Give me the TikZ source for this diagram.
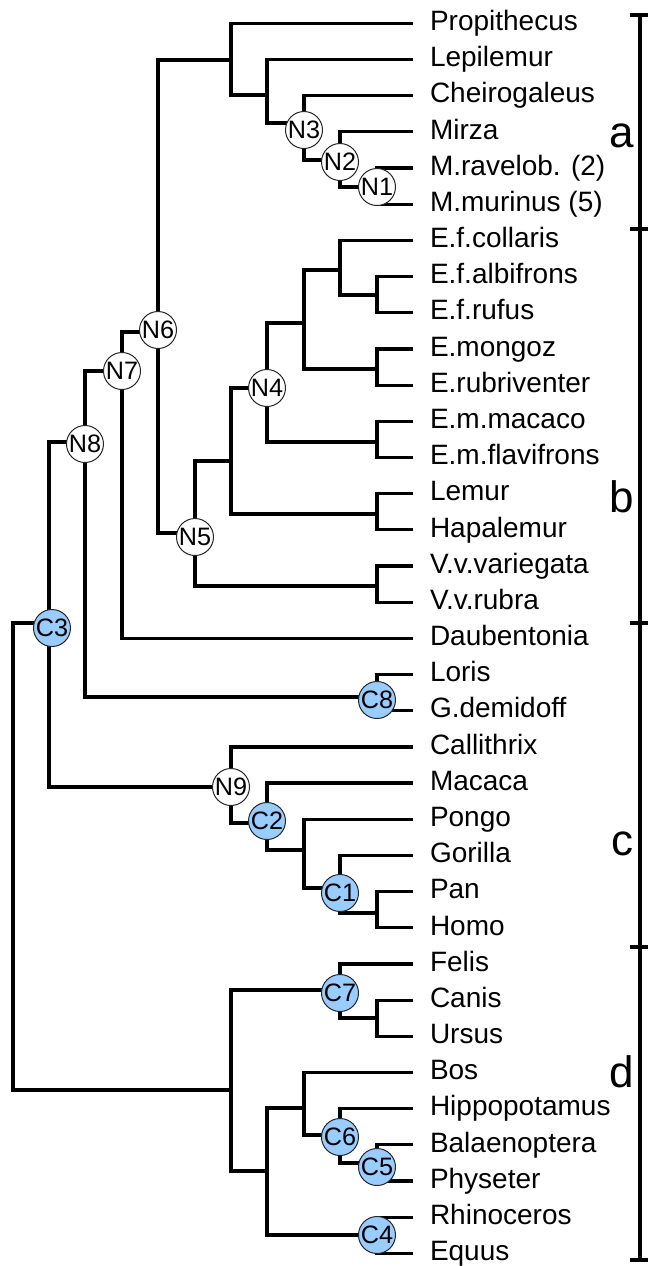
\documentclass[tikz,border=0pt]{standalone}
\usepackage{fontspec}
\setmainfont{Liberation Sans}
\usetikzlibrary{positioning,calc}
\definecolor{cblue}{RGB}{153,204,255}

\begin{document}
\begin{tikzpicture}[
  x=0.5pt, y=-0.5pt,
  font=\fontsize{14}{16}\selectfont,
  branch/.style={line width=1.6pt},
  bar/.style={line width=2pt},
  leaf/.style={anchor=west,inner xsep=8.5pt,inner ysep=0pt,outer sep=0pt,
               text height=0.72em,text depth=0pt},
  tag/.style={circle,draw=black!85,line width=0.5pt,fill=white,inner sep=0pt,
              minimum size=18.5pt,font=\fontsize{12.6}{12.6}\selectfont},
  ctag/.style={tag,fill=cblue},
  grp/.style={anchor=base east,inner sep=0pt,font=\fontsize{22}{22}\selectfont}
]
\useasboundingbox (0,0) rectangle (648,1266);

% ---- Taxa ----
\foreach \t [count=\i from 0] in {Propithecus,Lepilemur,Cheirogaleus,Mirza,
  M.ravelob. (2),M.murinus (5),E.f.collaris,E.f.albifrons,E.f.rufus,E.mongoz,
  E.rubriventer,E.m.macaco,E.m.flavifrons,Lemur,Hapalemur,V.v.variegata,
  V.v.rubra,Daubentonia,Loris,G.demidoff,Callithrix,Macaca,Pongo,Gorilla,Pan,
  Homo,Felis,Canis,Ursus,Bos,Hippopotamus,Balaenoptera,Physeter,Rhinoceros,Equus}
  \node[leaf] (l\i) at (413,{23.3+36.18*\i}) {\t};

% ---- Junctions ----
\coordinate (root) at (13,856);
\coordinate (c3)   at (49,623);
\coordinate (n8)   at (85,442);
\coordinate (n7)   at (122,371);
\coordinate (n6)   at (158,332);
\coordinate (j6)   at (231,60);
\coordinate (j7)   at (267,95);
\coordinate (n3)   at (304,123);
\coordinate (n2)   at (340,160);
\coordinate (n1)   at (377,187);
\coordinate (n5)   at (195,533);
\coordinate (lem)  at (231,461);
\coordinate (n4)   at (267,388);
\coordinate (eul)  at (304,323);
\coordinate (efc)  at (340,270);
\coordinate (ef)   at (377,295);
\coordinate (em)   at (377,369);
\coordinate (emm)  at (377,442);
\coordinate (lh)   at (377,514);
\coordinate (vv)   at (377,586);
\coordinate (c8)   at (377,697);
\coordinate (n9)   at (231,787);
\coordinate (c2)   at (267,823);
\coordinate (gp)   at (304,850);
\coordinate (c1)   at (340,888);
\coordinate (ph)   at (377,913);
\coordinate (lau)  at (231,1090);
\coordinate (c7)   at (340,990);
\coordinate (cu)   at (377,1018);
\coordinate (ung)  at (267,1171);
\coordinate (bc)   at (304,1108);
\coordinate (c6)   at (340,1135);
\coordinate (c5)   at (377,1163);
\coordinate (c4)   at (377,1235);

% ---- Branches ----
\foreach \a/\b in {root/c3,root/lau,c3/n8,c3/n9,n8/n7,n8/c8,n7/n6,n7/l17,
  n6/j6,n6/n5,j6/l0,j6/j7,j7/l1,j7/n3,n3/l2,n3/n2,n2/l3,n2/n1,n1/l4,n1/l5,
  n5/lem,n5/vv,lem/n4,lem/lh,n4/eul,n4/emm,eul/efc,eul/em,efc/l6,efc/ef,
  ef/l7,ef/l8,em/l9,em/l10,emm/l11,emm/l12,lh/l13,lh/l14,vv/l15,vv/l16,
  c8/l18,c8/l19,n9/l20,n9/c2,c2/l21,c2/gp,gp/l22,gp/c1,c1/l23,c1/ph,
  ph/l24,ph/l25,lau/c7,lau/ung,c7/l26,c7/cu,cu/l27,cu/l28,ung/bc,ung/c4,
  bc/l29,bc/c6,c6/l30,c6/c5,c5/l31,c5/l32,c4/l33,c4/l34} {
  \draw[branch] (\a) |- (\b);
}

% ---- Node labels ----
\node[tag] (N1) at (n1) {N1};
\node[tag] (N2) at ([yshift=-1pt]n2) {N2};
\node[tag] (N3) at ([yshift=-3.5pt]n3) {N3};
\node[tag] (N4) at (n4) {N4};
\node[tag] (N5) at ([yshift=-2pt]n5) {N5};
\node[tag] (N6) at ([yshift=1pt]n6) {N6};
\node[tag] (N7) at (n7) {N7};
\node[tag] (N8) at ([yshift=-1pt]n8) {N8};
\node[tag] (N9) at (n9) {N9};
\node[ctag] (C1) at ([yshift=-2.5pt]c1) {C1};
\node[ctag] (C2) at ([yshift=1pt]c2) {C2};
\node[ctag] (C3) at ([xshift=1.5pt,yshift=-2.5pt]c3) {C3};
\node[ctag] (C4) at (c4) {C4};
\node[ctag] (C5) at ([yshift=-2pt]c5) {C5};
\node[ctag] (C6) at ([yshift=-1pt]c6) {C6};
\node[ctag] (C7) at ([yshift=-1.5pt]c7) {C7};
\node[ctag] (C8) at ([yshift=-1.5pt]c8) {C8};

% ---- Groups ----
\draw[bar] (640,15) -- (640,1260);
\foreach \y in {15,229,623,947,1260}
  \draw[bar] (630,\y) -- (648,\y);
\node[grp] (ga) at (634,147) {a};
\node[grp] (gb) at (634,512) {b};
\node[grp] (gc) at (634,855) {c};
\node[grp] (gd) at (634,1087) {d};

\end{tikzpicture}
\end{document}
